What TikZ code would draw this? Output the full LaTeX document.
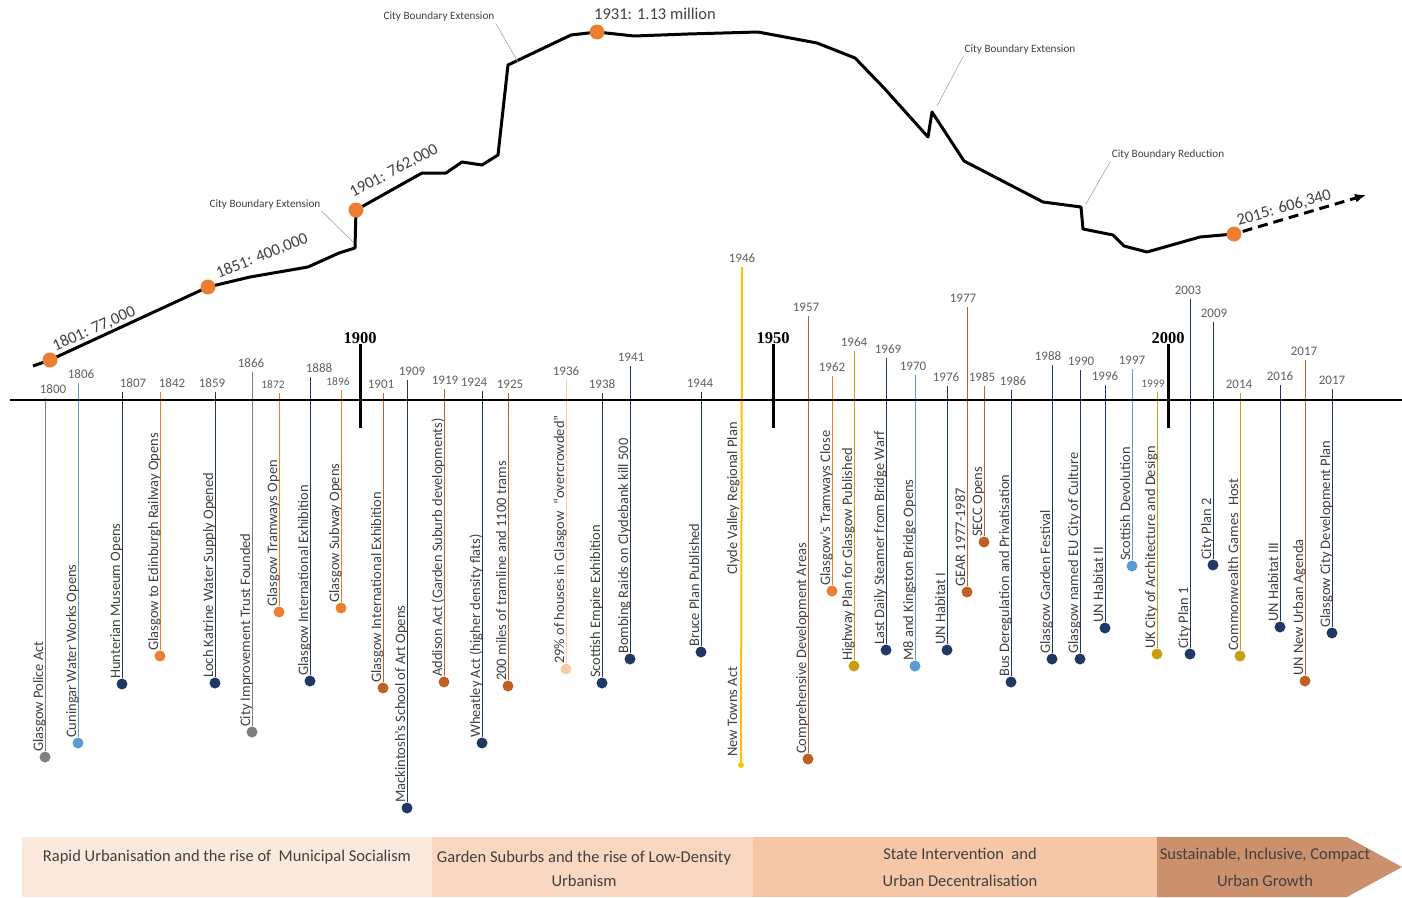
\documentclass[tikz,border=0pt]{standalone}
\usepackage{fontspec}
\setmainfont{Carlito}
\newfontfamily\centuryfont{Liberation Serif}
\usepackage{tikz}
\usetikzlibrary{positioning, arrows.meta, calc}

\definecolor{cnavy}{RGB}{31,56,100}
\definecolor{cgrey}{RGB}{127,127,127}
\definecolor{clblue}{RGB}{91,155,213}
\definecolor{corange}{RGB}{237,125,49}
\definecolor{cbrown}{RGB}{192,96,40}
\definecolor{cpeach}{RGB}{248,203,173}
\definecolor{cgold}{RGB}{200,158,18}
\definecolor{cyellow}{RGB}{255,192,0}
\definecolor{txt}{RGB}{64,64,64}
\definecolor{yrtxt}{RGB}{95,95,95}
\definecolor{band1}{RGB}{252,233,221}
\definecolor{band2}{RGB}{249,215,192}
\definecolor{band3}{RGB}{246,199,166}
\definecolor{band4}{RGB}{204,144,108}

\begin{document}
\begin{tikzpicture}[
    x=1pt, y=-1pt,
    yr/.style={anchor=south, inner sep=0pt, yshift=4pt, text=yrtxt, font=\fontsize{#1}{#1}\selectfont},
    ev/.style={rotate=90, anchor=base west, inner sep=0pt, text=txt, font=\fontsize{14.5}{16}\selectfont},
    evdot/.style={circle, inner sep=0pt, minimum size=11pt},
    evline/.style={line width=0.9pt},
    popdot/.style={circle, fill=corange, inner sep=0pt, minimum size=15pt},
    pop/.style={text=txt, font=\fontsize{16.5}{18}\selectfont, inner sep=0pt},
    note/.style={text=txt, font=\fontsize{11.2}{12}\selectfont, inner sep=1pt},
    leader/.style={draw=cgrey!70, line width=0.6pt},
    century/.style={font=\centuryfont\bfseries\fontsize{16.5}{17}\selectfont, anchor=south, inner sep=0pt},
    tick/.style={line width=3pt},
    phase/.style={text=txt, font=\fontsize{16.5}{24}\selectfont, align=center, inner sep=0pt}
]
    \useasboundingbox (0,0) rectangle (1402,897);

    % population curve
    \draw[line width=3pt, line join=round]
        (33,366) -- (50,360) node[popdot] (p1801) {}
        -- (208,287) node[popdot] (p1851) {}
        -- (250,277) -- (308,267) -- (339,253) -- (355,248)
        -- (356,210) node[popdot] (p1901) {}
        -- (422,173) -- (446,173) -- (462,162) -- (482,165) -- (498,155)
        -- (508,65) -- (571,35)
        -- (597,32) node[popdot] (p1931) {}
        -- (634,36) -- (688,34) -- (758,32) -- (817,43) -- (855,58) -- (884,88)
        -- (928,137) -- (932,112) -- (964,161) -- (1043,202) -- (1081,207)
        -- (1083,229) -- (1113,235) -- (1124,246) -- (1147,252) -- (1200,237)
        -- (1234,234) node[popdot] (p2015) {};
    \coordinate (fut) at (1366,195);
    \draw[line width=3pt, dash pattern=on 10pt off 6pt, -{Latex[length=11pt,width=9pt]}] (p2015) -- (fut);

    \node[pop, rotate=24] (l1801) at (94,329) {1801: 77,000};
    \node[pop, rotate=22] (l1851) at (262,256) {1851: 400,000};
    \node[pop, rotate=28] (l1901) at (394,171) {1901: 762,000};
    \node[pop] (l1931) at (655,14) {1931: 1.13 million};
    \node[pop, rotate=16] (l2015) at (1284,208) {2015: 606,340};

    % boundary changes
    \node[note] (n1) at (265,205) {City Boundary Extension};
    \node[note] (n2) at (439,17) {City Boundary Extension};
    \node[note] (n3) at (1020,50) {City Boundary Extension};
    \node[note] (n4) at (1168,155) {City Boundary Reduction};
    \coordinate (k1) at (353,242);
    \coordinate (k2) at (518,62);
    \coordinate (k3) at (937,106);
    \coordinate (k4) at (1086,204);
    \draw[leader] (n1.south east) -- (k1);
    \draw[leader] (n2.south east) -- (k2);
    \draw[leader] (n3.south west) -- (k3);
    \draw[leader] (n4.south west) -- (k4);

    % events: line x / year x / line top / dot y / colour / year / size / text
    \foreach \x/\lx/\ty/\dy/\col/\yy/\fs/\txt [count=\i] in {
        45/53/398/757/cgrey/1800/13/{Glasgow Police Act},
        78/81/383/743/clblue/1806/13/{Cuningar Water Works Opens},
        122/133/392/684/cnavy/1807/13/{Hunterian Museum Opens},
        160/172/392/656/corange/1842/13/{Glasgow to Edinburgh Railway Opens},
        215/212/392/683/cnavy/1859/13/{Loch Katrine Water Supply Opened},
        252/251/372/732/cgrey/1866/13/{City Improvement Trust Founded},
        279/273/393/612/corange/1872/11.5/{Glasgow Tramways Open},
        310/319/377/681/cnavy/1888/13/{Glasgow International Exhibition},
        341/338/390/608/corange/1896/11.5/{Glasgow Subway Opens},
        383/381/393/688/cbrown/1901/13/{Glasgow International Exhibition},
        407/412/380/808/cnavy/1909/13/{Mackintosh’s School of Art Opens},
        444/445/389/682/cbrown/1919/13/{Addison Act (Garden Suburb developments)},
        482/474/391/743/cnavy/1924/13/{Wheatley Act (higher density flats)},
        508/510/393/686/cbrown/1925/13/{200 miles of tramline and 1100 trams},
        566/566/380/669/cpeach/1936/13/{29\% of houses in Glasgow\enspace “overcrowded”},
        602/602/393/683/cnavy/1938/13/{Scottish Empire Exhibition},
        630/631/366/659/cnavy/1941/13/{Bombing Raids on Clydebank kill 500},
        701/700/392/652/cnavy/1944/13/{Bruce Plan Published},
        808/806/316/759/cbrown/1957/13/{Comprehensive Development Areas},
        832/832/376/591/corange/1962/13/{Glasgow’s Tramways Close},
        854/854/351/666/cgold/1964/13/{Highway Plan for Glasgow Published},
        886/888/358/650/cnavy/1969/13/{Last Daily Steamer from Bridge Warf},
        915/913/375/666/clblue/1970/13/{M8 and Kingston Bridge Opens},
        947/946/386/650/cnavy/1976/13/{UN Habitat I},
        967/963/307/592/cbrown/1977/13/{GEAR 1977-1987},
        984/982/386/542/cbrown/1985/13/{SECC Opens},
        1011/1013/390/682/cnavy/1986/13/{Bus Deregulation and Privatisation},
        1052/1048/365/659/cnavy/1988/13/{Glasgow Garden Festival},
        1080/1081/370/659/cnavy/1990/13/{Glasgow named EU City of Culture},
        1105/1105/385/628/cnavy/1996/13/{UN Habitat II},
        1132/1132/369/566/clblue/1997/13/{Scottish Devolution},
        1157/1153/392/654/cgold/1999/11.5/{UK City of Architecture and Design},
        1190/1188/299/654/cnavy/2003/13/{City Plan 1},
        1213/1214/322/565/cnavy/2009/13/{City Plan 2},
        1240/1239/393/656/cgold/2014/13/{Commonwealth Games\enspace Host},
        1280/1280/385/627/cnavy/2016/13/{UN Habitat III},
        1305/1304/360/681/cbrown/2017/13/{UN New Urban Agenda},
        1332/1332/389/633/cnavy/2017/13/{Glasgow City Development Plan}
    }{
        \coordinate (t\i) at (\x,\ty);
        \node[yr=\fs] (y\i) at (\lx,\ty) {\yy};
        \node[evdot, fill=\col] (d\i) at (\x,\dy) {};
        \draw[evline, draw=\col] (t\i) -- (d\i);
        \node[ev] (e\i) at ([xshift=-2pt, yshift=5pt]d\i.center) {\txt};
    }

    % 1946 carries two events
    \coordinate (t46) at (742,267);
    \node[yr=13] (y46) at (742,267) {1946};
    \node[evdot, fill=cyellow, minimum size=6pt] (d46) at (741,765) {};
    \draw[line width=2pt, cyellow] (t46) -- (d46);
    \node[ev] (e46a) at (737,575) {Clyde Valley Regional Plan};
    \node[ev] (e46b) at (737,757) {New Towns Act};

    % time axis and centuries
    \draw[line width=2.5pt] (10,400) -- (1402,400);
    \node[century] (c1900) at (360,344) {1900};
    \node[century] (c1950) at (773,344) {1950};
    \node[century] (c2000) at (1168,344) {2000};
    \draw[tick] (c1900.south) -- ++(0,84);
    \draw[tick] (c1950.south) -- ++(0,84);
    \draw[tick] (c2000.south) -- ++(0,84);

    % phases
    \fill[band1] (22,837) rectangle (432,897);
    \fill[band2] (432,837) rectangle (753,897);
    \fill[band3] (753,837) rectangle (1157,897);
    \fill[band4] (1157,837) -- (1347,837) -- (1402,867) -- (1347,897) -- (1157,897) -- cycle;
    \node[phase] (ph1) at (227,857) {Rapid Urbanisation and the rise of\ \ Municipal Socialism};
    \node[phase] (ph2) at (584,869) {Garden Suburbs and the rise of Low-Density\\Urbanism};
    \node[phase] (ph3) at (960,867) {State Intervention\ \ and\\[3pt]Urban Decentralisation};
    \node[phase] (ph4) at (1265,867) {Sustainable, Inclusive, Compact\\[3pt]Urban Growth};
\end{tikzpicture}
\end{document}
